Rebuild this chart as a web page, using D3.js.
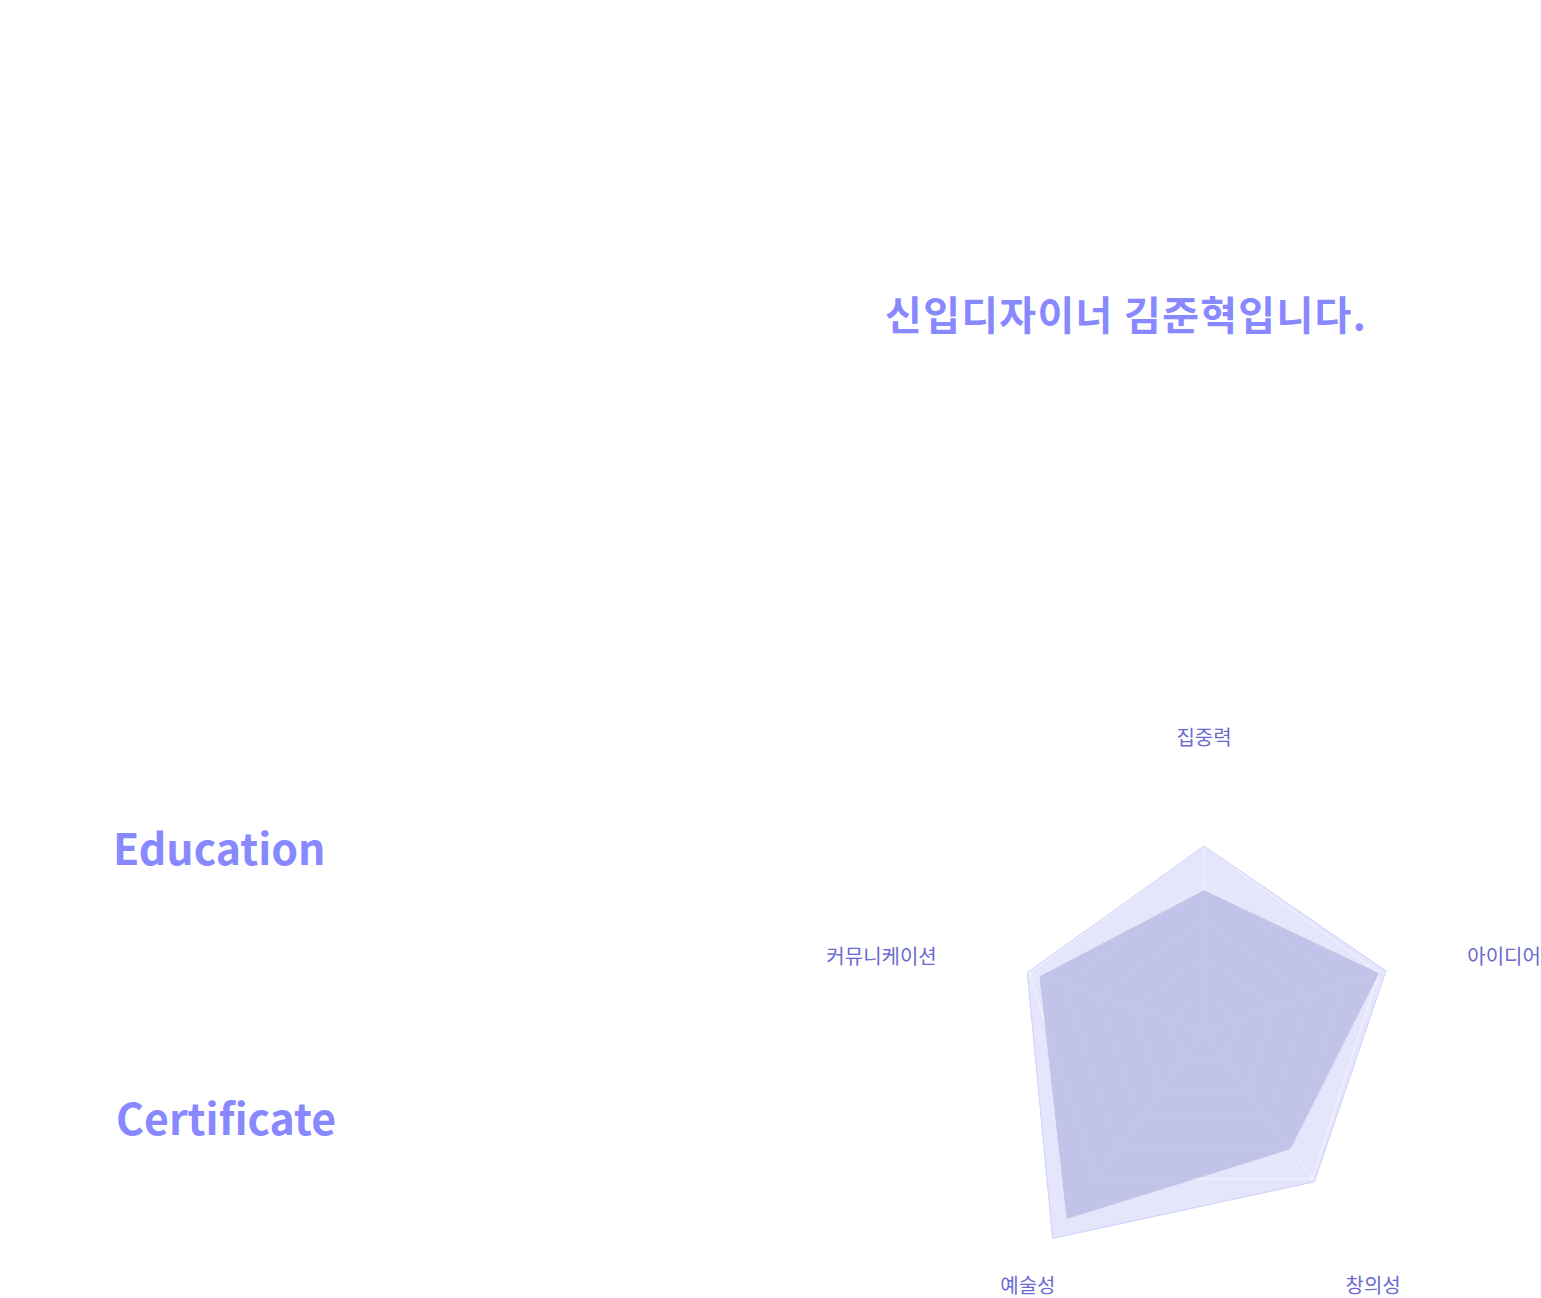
<!DOCTYPE html>
<html>
<head>
<meta charset="utf-8">
<script src="https://cdn.jsdelivr.net/npm/d3@7"></script>
<style>
  html, body { margin: 0; padding: 0; background: #ffffff; }
  svg { display: block; }
</style>
</head>
<body>
<svg id="chart" width="1541" height="1298"></svg>
<script>
// ---- data ----
const titleText = "신입디자이너 김준혁입니다.";
const sectionTitles = ["Education", "Certificate"];
const axes = ["집중력", "아이디어", "창의성", "예술성", "커뮤니케이션"];
const outerValues = [100, 104, 102, 140, 101];
const innerValues = [76, 100, 80, 127, 94];
const gridLevels = [20, 40, 60, 80, 100];

// ---- layout ----
const W = 1541, H = 1298;
const cx = 1204, cy = 1030, R = 184, labelR = 281;
const svg = d3.select("#chart");

const rScale = d3.scaleLinear().domain([0, 100]).range([0, R]);
const angle = d3.scaleLinear().domain([0, axes.length]).range([0, 2 * Math.PI]);

const radial = d3.lineRadial()
  .angle((d, i) => angle(i))
  .radius(d => rScale(d))
  .curve(d3.curveLinearClosed);

const g = svg.append("g").attr("transform", `translate(${cx},${cy})`);

// outer dataset
g.append("path")
  .datum(outerValues)
  .attr("d", radial)
  .attr("fill", "#e5e5fc")
  .attr("stroke", "none");

// grid rings & angle lines (white, drawn between the two datasets)
const gridG = g.append("g").attr("fill", "none").attr("stroke", "#ffffff");
gridLevels.forEach(lv => {
  gridG.append("path")
    .datum(axes.map(() => lv))
    .attr("d", radial)
    .attr("stroke-opacity", lv === 100 ? 0.65 : 0.3)
    .attr("stroke-width", 1);
});
axes.forEach((a, i) => {
  const p = d3.pointRadial(angle(i), rScale(100));
  gridG.append("line")
    .attr("x1", 0).attr("y1", 0)
    .attr("x2", p[0]).attr("y2", p[1])
    .attr("stroke-opacity", 0.55);
});

// inner dataset (semi-transparent)
g.append("path")
  .datum(innerValues)
  .attr("d", radial)
  .attr("fill", "rgb(169,171,220)")
  .attr("fill-opacity", 0.6)
  .attr("stroke", "none");

// outer border
g.append("path")
  .datum(outerValues)
  .attr("d", radial)
  .attr("fill", "none")
  .attr("stroke", "#cfd0fa")
  .attr("stroke-width", 1);

// axis labels
axes.forEach((a, i) => {
  const th = angle(i);
  const p = d3.pointRadial(th, labelR);
  const c = Math.cos(th), s = Math.sin(th);
  let anchor = "middle", dy = 0, dx = 0;
  if (c > 0.7) { anchor = "middle"; dy = -4; }
  else if (c < -0.7) { anchor = "middle"; dy = 35.5; dx = s > 0 ? 4 : -11; }
  else { anchor = s > 0 ? "start" : "end"; dy = 21; dx = s > 0 ? -4 : 0; }
  g.append("text")
    .attr("x", p[0] + dx)
    .attr("y", p[1] + dy)
    .attr("text-anchor", anchor)
    .attr("font-family", "'Noto Sans CJK KR', 'Noto Sans', sans-serif")
    .attr("font-size", 20)
    .attr("fill", "#6a6acf")
    .text(a);
});

// title
svg.append("text")
  .attr("x", 1126).attr("y", 330)
  .attr("text-anchor", "middle")
  .attr("font-family", "'Noto Sans CJK KR', sans-serif")
  .attr("font-weight", 700)
  .attr("font-size", 40)
  .attr("letter-spacing", 1.3)
  .attr("fill", "#8888ff")
  .text(titleText);

// section titles
const secPos = [[113, 865], [116, 1135]];
sectionTitles.forEach((t, i) => {
  svg.append("text")
    .attr("x", secPos[i][0]).attr("y", secPos[i][1])
    .attr("font-family", "'Noto Sans CJK KR', sans-serif")
    .attr("font-weight", 700)
    .attr("font-size", 42.8)
    .attr("fill", "#8888ff")
    .text(t);
});
</script>
</body>
</html>
